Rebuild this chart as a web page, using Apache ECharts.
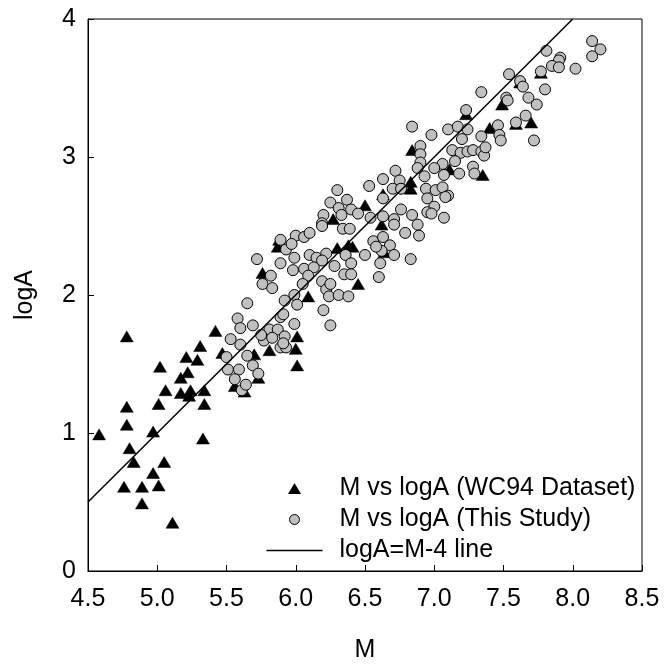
<!DOCTYPE html>
<html>
<head>
<meta charset="utf-8">
<script src="https://cdn.jsdelivr.net/npm/echarts@6/dist/echarts.min.js"></script>
<style>
  html, body { margin: 0; padding: 0; background: #fff; }
  #chart { width: 665px; height: 668px; }
</style>
</head>
<body>
<div id="chart"></div>
<script>
// WC94 dataset (triangles): [M, logA]
var wc94Points = [
  [4.78, 1.70], [4.58, 0.99], [4.78, 1.19], [4.78, 1.06], [4.80, 0.89],
  [4.83, 0.79], [4.76, 0.61], [4.89, 0.61], [4.89, 0.49], [4.97, 0.71],
  [5.01, 0.62], [5.05, 0.79], [4.97, 1.01], [5.11, 0.35], [5.02, 1.48],
  [5.06, 1.31], [5.01, 1.21], [5.21, 1.55], [5.17, 1.40], [5.22, 1.44],
  [5.29, 1.53], [5.31, 1.63], [5.17, 1.29], [5.24, 1.31], [5.23, 1.27],
  [5.34, 1.31], [5.34, 1.21], [5.33, 0.96], [5.42, 1.74], [5.47, 1.58],
  [5.70, 1.57], [5.81, 1.60], [5.56, 1.34], [5.63, 1.30], [5.73, 1.40],
  [6.50, 2.65], [6.63, 2.73], [6.62, 2.51], [6.27, 2.55], [5.88, 2.40],
  [5.87, 2.35], [6.30, 2.34], [6.38, 2.36], [6.41, 2.35], [5.76, 2.16],
  [6.45, 2.08], [6.09, 1.99], [6.01, 1.70], [6.00, 1.61], [6.01, 1.49],
  [6.64, 2.31], [7.49, 3.38], [7.40, 3.21], [6.84, 3.05], [7.11, 2.91],
  [7.35, 2.87], [6.83, 2.82], [6.83, 2.77], [7.70, 3.25], [7.77, 3.61],
  [7.62, 3.54], [7.59, 3.24], [7.23, 3.31]
];

// This study (grey circles): [M, logA]
var studyPoints = [
  [5.65, 1.94], [5.58, 1.83], [5.60, 1.76], [5.69, 1.78], [5.53, 1.68],
  [5.60, 1.64], [5.50, 1.55], [5.51, 1.46], [5.59, 1.46], [5.56, 1.39],
  [5.61, 1.31], [5.64, 1.35], [5.65, 1.56], [5.69, 1.49], [5.73, 1.43],
  [5.77, 1.67], [5.81, 1.75], [5.87, 1.75], [5.89, 1.62], [5.83, 1.69],
  [5.75, 1.71], [5.89, 1.84],
  [6.30, 2.76], [6.53, 2.79], [6.63, 2.84], [6.72, 2.90], [6.25, 2.67],
  [6.37, 2.69], [6.31, 2.63], [6.40, 2.62], [6.20, 2.58], [6.33, 2.58],
  [6.45, 2.59], [6.19, 2.52], [6.19, 2.50], [6.34, 2.48], [6.39, 2.48],
  [6.54, 2.56], [6.63, 2.70], [6.70, 2.77], [6.63, 2.57], [6.71, 2.55],
  [5.89, 2.40], [6.00, 2.43], [6.06, 2.42], [6.10, 2.45], [5.93, 2.33],
  [5.97, 2.37], [5.72, 2.26], [5.89, 2.23], [5.99, 2.27], [6.10, 2.29],
  [5.98, 2.18], [6.06, 2.19], [6.15, 2.27], [6.22, 2.30], [6.19, 2.25],
  [6.13, 2.20], [6.09, 2.14], [6.05, 2.08], [5.82, 2.14], [5.76, 2.08],
  [5.83, 2.05], [6.28, 2.21], [6.36, 2.29], [6.40, 2.23], [6.35, 2.15],
  [6.40, 2.15], [6.19, 2.10], [6.22, 2.04], [6.25, 2.08], [6.24, 1.99],
  [6.31, 2.00], [6.38, 1.99], [6.50, 2.29], [6.56, 2.39], [6.63, 2.42],
  [6.68, 2.36], [6.71, 2.29], [6.61, 2.23], [6.60, 2.13], [6.62, 2.32],
  [5.99, 2.00], [5.92, 1.96], [6.01, 1.93], [5.91, 1.86], [5.99, 1.79],
  [6.20, 1.89], [6.25, 1.78], [5.92, 1.70], [5.93, 1.62], [5.91, 1.65],
  [6.58, 2.35],
  [7.23, 3.34], [6.84, 3.22], [6.98, 3.16], [7.10, 3.20], [7.17, 3.22],
  [7.24, 3.20], [7.20, 3.13], [7.34, 3.15], [7.46, 3.23], [7.47, 3.16],
  [7.48, 3.12], [7.59, 3.25], [7.66, 3.30], [6.90, 3.08], [6.90, 3.02],
  [6.90, 2.96], [6.88, 2.92], [7.13, 3.05], [7.19, 3.03], [7.24, 3.04],
  [7.28, 3.05], [7.34, 3.04], [7.36, 3.01], [7.37, 3.07], [7.15, 2.97],
  [7.06, 2.95], [7.00, 2.92], [7.07, 2.87], [7.18, 2.88], [7.28, 2.93],
  [7.29, 2.88], [6.93, 2.86], [6.75, 2.83], [6.76, 2.77], [6.94, 2.77],
  [7.01, 2.76], [7.06, 2.78], [7.10, 2.72], [6.95, 2.70], [7.08, 2.71],
  [6.76, 2.62], [7.00, 2.64], [6.95, 2.60], [6.98, 2.59], [7.07, 2.56],
  [6.84, 2.58], [6.71, 2.51], [6.88, 2.51], [6.79, 2.45], [6.89, 2.43],
  [6.83, 2.26], [7.34, 3.47],
  [8.14, 3.84], [8.20, 3.78], [8.14, 3.73], [7.81, 3.77], [7.91, 3.72],
  [7.90, 3.70], [7.85, 3.66], [7.90, 3.65], [8.02, 3.64], [7.77, 3.62],
  [7.54, 3.60], [7.62, 3.55], [7.64, 3.51], [7.80, 3.49], [7.52, 3.43],
  [7.53, 3.41], [7.68, 3.43], [7.74, 3.38], [7.72, 3.12]
];

// reference line logA = M - 4
var refLine = [[4.5, 0.5], [8.0, 4.0]];

var seriesNames = ['M vs logA (WC94 Dataset)', 'M vs logA (This Study)', 'logA=M-4 line'];

var fontName = 'Liberation Sans';
var fontSize = 25;

// legend icons: 68x14 box (anchored by the two leading moveTo points),
// symbol centred over the first 56px, the remaining space is the gap before the text
var iconTriangle = 'path://M0,0M68,14M28,1.5L34.5,12.5L21.5,12.5Z';
var iconCircle = 'path://M0,0M68,14M33,7A5,5,0,1,1,23,7A5,5,0,1,1,33,7Z';
var iconLine = 'path://M0,0M68,14M0,6.25L56,6.25L56,7.75L0,7.75Z';

var chart = echarts.init(document.getElementById('chart'), null, { renderer: 'canvas' });

var option = {
  animation: false,
  grid: {
    left: 88,
    right: 23,
    top: 19,
    bottom: 93,
    show: true,
    borderColor: '#000',
    borderWidth: 1
  },
  legend: {
    orient: 'vertical',
    left: 266,
    top: 476,
    padding: 0,
    itemWidth: 68,
    itemHeight: 14,
    itemGap: 6,
    textStyle: { fontFamily: fontName, fontSize: fontSize, color: '#000' },
    data: [
      { name: seriesNames[0], icon: iconTriangle, itemStyle: { color: '#000', borderWidth: 0 } },
      { name: seriesNames[1], icon: iconCircle, itemStyle: { color: '#c0c0c0', borderColor: '#000', borderWidth: 1 } },
      { name: seriesNames[2], icon: iconLine, itemStyle: { color: '#000', borderWidth: 0 } }
    ]
  },
  xAxis: {
    type: 'value',
    min: 4.5,
    max: 8.5,
    interval: 0.5,
    name: 'M',
    nameLocation: 'middle',
    nameGap: 67,
    nameTextStyle: { fontFamily: fontName, fontSize: fontSize, color: '#000' },
    splitLine: { show: false },
    axisLine: { lineStyle: { color: '#000', width: 1 } },
    axisTick: { inside: true, length: 6, lineStyle: { color: '#000' } },
    axisLabel: {
      margin: 16,
      fontFamily: fontName,
      fontSize: fontSize,
      color: '#000',
      formatter: function (v) { return v.toFixed(1); }
    }
  },
  yAxis: {
    type: 'value',
    min: 0,
    max: 4,
    interval: 1,
    name: 'logA',
    nameLocation: 'middle',
    nameGap: 50,
    nameTextStyle: { fontFamily: fontName, fontSize: fontSize, color: '#000' },
    splitLine: { show: false },
    axisLine: { lineStyle: { color: '#000', width: 1 } },
    axisTick: { inside: true, length: 6, lineStyle: { color: '#000' } },
    axisLabel: { margin: 12, fontFamily: fontName, fontSize: fontSize, color: '#000' }
  },
  series: [
    {
      name: seriesNames[0],
      type: 'scatter',
      symbol: 'triangle',
      symbolSize: [13, 11],
      itemStyle: { color: '#000', borderColor: '#000', borderWidth: 0.5, opacity: 1 },
      data: wc94Points
    },
    {
      name: seriesNames[1],
      type: 'scatter',
      symbol: 'circle',
      symbolSize: 11,
      itemStyle: { color: '#c0c0c0', borderColor: '#000', borderWidth: 1, opacity: 1 },
      data: studyPoints
    },
    {
      name: seriesNames[2],
      type: 'line',
      symbol: 'none',
      itemStyle: { color: '#000' },
      lineStyle: { color: '#000', width: 1.5 },
      data: refLine
    }
  ]
};

chart.setOption(option);
window.addEventListener('resize', chart.resize);
</script>
</body>
</html>
